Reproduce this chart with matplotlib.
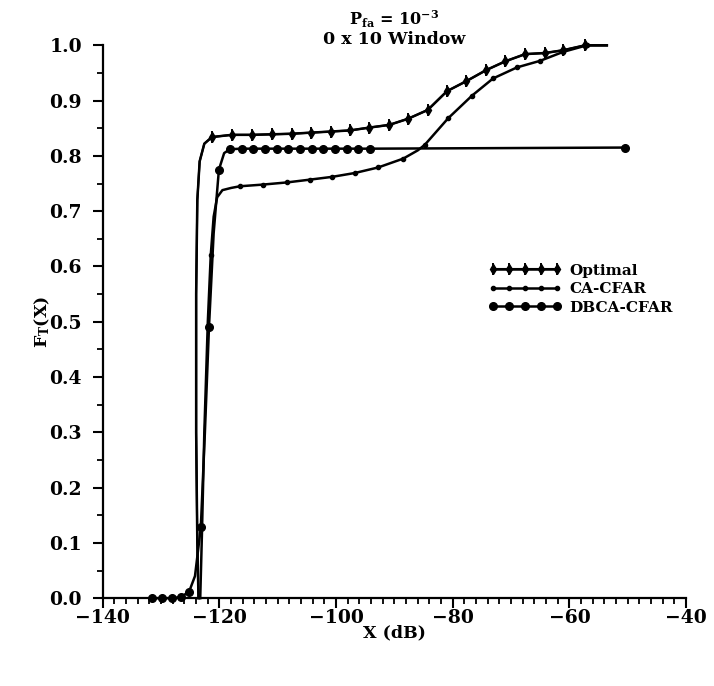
import matplotlib
matplotlib.use("Agg")
import matplotlib.pyplot as plt
from matplotlib.legend_handler import HandlerTuple
from matplotlib.ticker import MultipleLocator

# ─── Data (x in dB, y = F_T(X)) ─────────────────────────────
opt_x = [-123.6, -123.8, -124.0, -124.0, -123.8, -123.4, -122.6, -121.3, -117.9, -114.4,
         -111.0, -107.6, -104.3, -100.9, -97.6, -94.4, -90.9, -87.7, -84.3, -81.0,
         -77.7, -74.3, -71.0, -67.6, -64.2, -61.1, -57.3, -53.6]
opt_y = [0.0, 0.10, 0.30, 0.55, 0.72, 0.79, 0.822, 0.834, 0.838, 0.838,
         0.839, 0.840, 0.842, 0.844, 0.846, 0.851, 0.856, 0.867, 0.883, 0.917,
         0.935, 0.955, 0.971, 0.984, 0.986, 0.991, 1.0, 1.0]
opt_marks = list(range(7, 27))

ca_x = [-123.3, -123.0, -122.6, -122.0, -121.5, -121.0, -120.4, -119.5, -118.0, -116.5,
        -112.6, -108.4, -104.5, -100.7, -96.8, -92.8, -88.5, -86.0, -84.8, -80.8,
        -76.7, -73.1, -69.0, -65.0, -61.1, -57.0, -53.6]
ca_y = [0.0, 0.12, 0.30, 0.50, 0.62, 0.69, 0.725, 0.738, 0.742, 0.745,
        0.748, 0.752, 0.757, 0.762, 0.769, 0.779, 0.795, 0.810, 0.820, 0.868,
        0.909, 0.940, 0.960, 0.972, 0.988, 1.0, 1.0]
ca_marks = [4, 9, 10, 11, 12, 13, 14, 15, 16, 18, 19, 20, 21, 22, 23, 24, 25]

db_x = [-131.6, -129.9, -128.2, -126.6, -125.2, -124.2, -123.2, -122.5, -121.8, -121.0,
        -120.1, -119.2, -118.2, -116.2, -114.2, -112.2, -110.2, -108.2, -106.2, -104.2,
        -102.2, -100.2, -98.2, -96.2, -94.2, -50.5]
db_y = [0.0, 0.0, 0.0, 0.002, 0.012, 0.04, 0.128, 0.30, 0.49, 0.66,
        0.775, 0.805, 0.812, 0.813, 0.813, 0.813, 0.813, 0.813, 0.813, 0.813,
        0.813, 0.813, 0.813, 0.813, 0.813, 0.815]
db_marks = [0, 1, 2, 3, 4, 6, 8, 10, 12, 13, 14, 15, 16, 17, 18, 19, 20, 21, 22, 23, 24, 25]

plt.rcParams["font.family"] = ["DejaVu Serif"]
plt.rcParams["font.weight"] = "bold"
plt.rcParams["mathtext.fontset"] = "dejavuserif"

fig = plt.figure(figsize=(7.14, 6.86), dpi=100)
ax = fig.add_axes([0.144, 0.128, 0.817, 0.806])

lw = 1.8
ax.plot(opt_x, opt_y, "-", color="black", lw=lw, clip_on=False,
        marker="d", ms=5, markevery=opt_marks)
ax.plot(opt_x, opt_y, "none", color="black", marker="|", ms=8, mew=1.4,
        markevery=opt_marks, clip_on=False)
ax.plot(ca_x, ca_y, "-", color="black", lw=lw, clip_on=False,
        marker="o", ms=3, markevery=ca_marks)
ax.plot(db_x, db_y, "-", color="black", lw=lw, clip_on=False,
        marker="o", ms=5.5, markevery=db_marks)

ax.set_xlim(-140, -40)
ax.set_ylim(0, 1.0)
ax.xaxis.set_major_locator(MultipleLocator(20))
ax.xaxis.set_minor_locator(MultipleLocator(2))
ax.yaxis.set_major_locator(MultipleLocator(0.1))
ax.yaxis.set_minor_locator(MultipleLocator(0.05))
ax.yaxis.set_major_formatter(matplotlib.ticker.FormatStrFormatter("%.1f"))
ax.tick_params(which="major", direction="out", length=7, width=1.5, labelsize=13.5)
ax.tick_params(which="minor", direction="out", length=4, width=1.3)
ax.tick_params(axis="x", which="major", pad=1)
ax.tick_params(axis="y", which="major", pad=8)
for s in ["top", "right"]:
    ax.spines[s].set_visible(False)
for s in ["left", "bottom"]:
    ax.spines[s].set_linewidth(1.6)
for lab in ax.get_xticklabels() + ax.get_yticklabels():
    lab.set_fontweight("bold")

ax.set_xlabel("X (dB)", fontsize=12.5, fontweight="bold", labelpad=-2)
ax.set_ylabel(r"$\mathbf{F_T(X)}$", fontsize=12.5, labelpad=-2)

fig.text(0.552, 0.972, r"$\mathbf{P_{fa}}$ = $\mathbf{10^{-3}}$", ha="center",
         va="center", fontsize=11.5, fontweight="bold")
fig.text(0.552, 0.943, "0 x 10 Window", ha="center", va="center",
         fontsize=12.5, fontweight="bold")

# legend handles
h_opt_d, = ax.plot([], [], "-", color="black", lw=lw, marker="d", ms=5)
h_opt_b, = ax.plot([], [], "none", color="black", marker="|", ms=8, mew=1.4)
h_ca, = ax.plot([], [], "-", color="black", lw=lw, marker="o", ms=3)
h_db, = ax.plot([], [], "-", color="black", lw=lw, marker="o", ms=5.5)
ax.legend([(h_opt_d, h_opt_b), h_ca, h_db], ["Optimal", "CA-CFAR", "DBCA-CFAR"],
          handler_map={tuple: HandlerTuple(ndivide=1)},
          loc="upper left", bbox_to_anchor=(0.637, 0.63), frameon=False,
          numpoints=5, handlelength=4.8, handletextpad=0.5, labelspacing=0.3,
          prop={"weight": "bold", "size": 11})

fig.savefig("out.png", dpi=100)
